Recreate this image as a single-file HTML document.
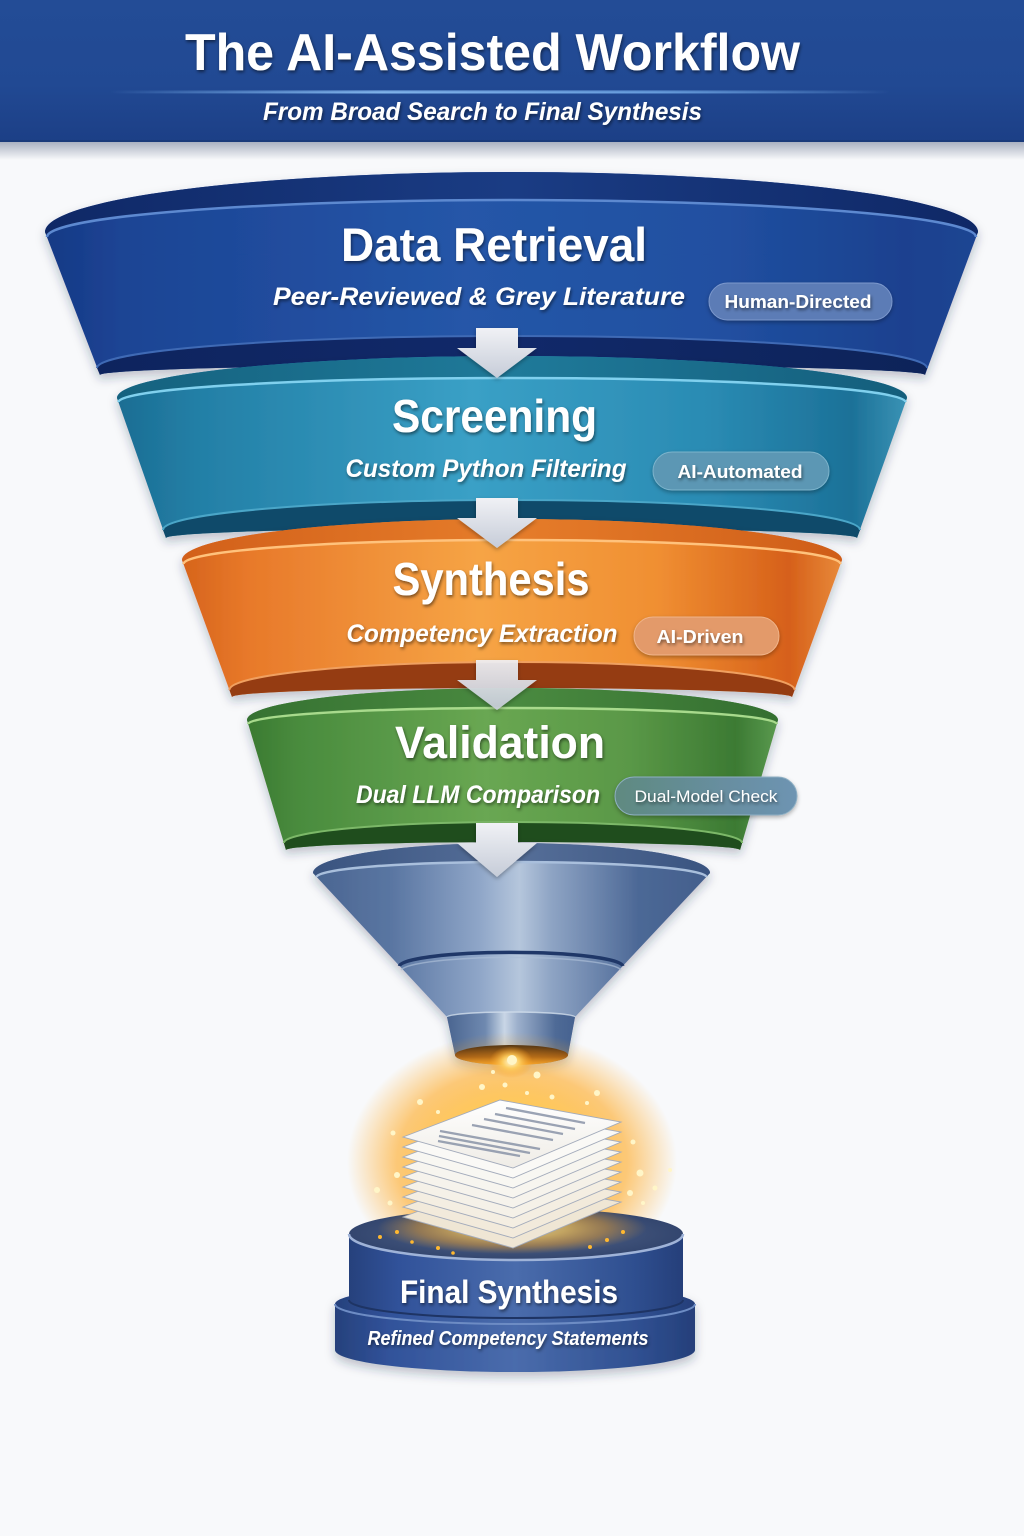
<!DOCTYPE html>
<html><head><meta charset="utf-8">
<style>
html,body{margin:0;padding:0;background:#f8f9fb;}
svg{display:block;}
text{font-family:"Liberation Sans",Arial,sans-serif;}
</style></head><body>
<svg width="1024" height="1536" viewBox="0 0 1024 1536" xmlns="http://www.w3.org/2000/svg">
<defs>
  <linearGradient id="hdr" x1="0" y1="0" x2="0" y2="1">
    <stop offset="0" stop-color="#234c96"/><stop offset="0.6" stop-color="#214993"/><stop offset="1" stop-color="#1c3f86"/>
  </linearGradient>
  <linearGradient id="hdrSh" x1="0" y1="0" x2="0" y2="1">
    <stop offset="0" stop-color="#1a2c55" stop-opacity="0.35"/><stop offset="1" stop-color="#1a2c55" stop-opacity="0"/>
  </linearGradient>
  <linearGradient id="sep" x1="0" y1="0" x2="1" y2="0">
    <stop offset="0" stop-color="#7ab3f0" stop-opacity="0"/><stop offset="0.35" stop-color="#8cc0f5" stop-opacity="1"/><stop offset="0.7" stop-color="#7ab3f0" stop-opacity="0.8"/><stop offset="1" stop-color="#7ab3f0" stop-opacity="0"/>
  </linearGradient>

  <linearGradient id="bB" x1="0" y1="0" x2="1" y2="0">
    <stop offset="0" stop-color="#163985"/><stop offset="0.08" stop-color="#1c4494"/><stop offset="0.45" stop-color="#2556a8"/><stop offset="0.72" stop-color="#2150a1"/><stop offset="0.92" stop-color="#1a418f"/><stop offset="1" stop-color="#1d4592"/>
  </linearGradient>
  <linearGradient id="bL" x1="0" y1="0" x2="1" y2="0">
    <stop offset="0" stop-color="#0f2866"/><stop offset="0.5" stop-color="#1a3c84"/><stop offset="1" stop-color="#0f2866"/>
  </linearGradient>
  <linearGradient id="bR" x1="0" y1="0" x2="1" y2="0">
    <stop offset="0" stop-color="#0e245e"/><stop offset="0.5" stop-color="#11296a"/><stop offset="1" stop-color="#0d2359"/>
  </linearGradient>
  <linearGradient id="tB" x1="0" y1="0" x2="1" y2="0">
    <stop offset="0" stop-color="#1b6d93"/><stop offset="0.1" stop-color="#237fa6"/><stop offset="0.45" stop-color="#3aa0c6"/><stop offset="0.75" stop-color="#2a8bb3"/><stop offset="0.93" stop-color="#1c7198"/><stop offset="1" stop-color="#3a93b5"/>
  </linearGradient>
  <linearGradient id="tL" x1="0" y1="0" x2="1" y2="0">
    <stop offset="0" stop-color="#15627f"/><stop offset="0.5" stop-color="#1f7a9a"/><stop offset="1" stop-color="#145e7c"/>
  </linearGradient>
  <linearGradient id="oB" x1="0" y1="0" x2="1" y2="0">
    <stop offset="0" stop-color="#d6641c"/><stop offset="0.1" stop-color="#e8792a"/><stop offset="0.45" stop-color="#f6a445"/><stop offset="0.72" stop-color="#f08f32"/><stop offset="0.92" stop-color="#d6601a"/><stop offset="1" stop-color="#e88a3a"/>
  </linearGradient>
  <linearGradient id="oL" x1="0" y1="0" x2="1" y2="0">
    <stop offset="0" stop-color="#d2601a"/><stop offset="0.5" stop-color="#e67d2a"/><stop offset="1" stop-color="#cf5d18"/>
  </linearGradient>
  <linearGradient id="gB" x1="0" y1="0" x2="1" y2="0">
    <stop offset="0" stop-color="#3a7a31"/><stop offset="0.1" stop-color="#4a8c3e"/><stop offset="0.45" stop-color="#69a752"/><stop offset="0.72" stop-color="#5a9847"/><stop offset="0.92" stop-color="#3c7a33"/><stop offset="1" stop-color="#5a9a4f"/>
  </linearGradient>
  <linearGradient id="gL" x1="0" y1="0" x2="1" y2="0">
    <stop offset="0" stop-color="#367232"/><stop offset="0.5" stop-color="#4a8a40"/><stop offset="1" stop-color="#346f30"/>
  </linearGradient>
  <linearGradient id="cB" x1="0" y1="0" x2="1" y2="0">
    <stop offset="0" stop-color="#4a6591"/><stop offset="0.2" stop-color="#5a76a2"/><stop offset="0.42" stop-color="#8fa6c8"/><stop offset="0.52" stop-color="#b5c6dc"/><stop offset="0.6" stop-color="#8ea4c4"/><stop offset="0.82" stop-color="#4c6896"/><stop offset="1" stop-color="#435f8c"/>
  </linearGradient>
  <linearGradient id="cS" x1="0" y1="0" x2="1" y2="0">
    <stop offset="0" stop-color="#4a6590"/><stop offset="0.3" stop-color="#6f89b0"/><stop offset="0.45" stop-color="#c9d6e6"/><stop offset="0.55" stop-color="#9db0cc"/><stop offset="0.85" stop-color="#4e6a96"/><stop offset="1" stop-color="#466290"/>
  </linearGradient>
  <linearGradient id="cL" x1="0" y1="0" x2="1" y2="0">
    <stop offset="0" stop-color="#3a5480"/><stop offset="0.5" stop-color="#566f99"/><stop offset="1" stop-color="#3a5480"/>
  </linearGradient>
  <linearGradient id="hole" x1="0" y1="0" x2="0" y2="1">
    <stop offset="0" stop-color="#2a1a10"/><stop offset="0.6" stop-color="#8a4a14"/><stop offset="1" stop-color="#f0a030"/>
  </linearGradient>
  <linearGradient id="arr" x1="0" y1="0" x2="0" y2="1">
    <stop offset="0" stop-color="#f0f1f5"/><stop offset="1" stop-color="#c6ccd8"/>
  </linearGradient>
  <linearGradient id="pB" x1="0" y1="0" x2="1" y2="0">
    <stop offset="0" stop-color="#26417c"/><stop offset="0.15" stop-color="#31529a"/><stop offset="0.5" stop-color="#4a6cac"/><stop offset="0.85" stop-color="#2f4f90"/><stop offset="1" stop-color="#253f7a"/>
  </linearGradient>
  <radialGradient id="pTop" cx="0.5" cy="0.5" r="0.6">
    <stop offset="0" stop-color="#56688e"/><stop offset="1" stop-color="#2c3f68"/>
  </radialGradient>
  <radialGradient id="glow" cx="0.5" cy="0.5" r="0.5">
    <stop offset="0" stop-color="#fff2b8" stop-opacity="1"/><stop offset="0.4" stop-color="#ffc850" stop-opacity="0.95"/><stop offset="0.7" stop-color="#ffa820" stop-opacity="0.6"/><stop offset="1" stop-color="#ffa820" stop-opacity="0"/>
  </radialGradient>
  <radialGradient id="spot" cx="0.5" cy="0.5" r="0.5">
    <stop offset="0" stop-color="#fffbe0"/><stop offset="0.4" stop-color="#ffd060" stop-opacity="0.9"/><stop offset="1" stop-color="#ffa020" stop-opacity="0"/>
  </radialGradient>
  <linearGradient id="paper" x1="0" y1="0" x2="0" y2="1">
    <stop offset="0" stop-color="#ffffff"/><stop offset="1" stop-color="#efece6"/>
  </linearGradient>
  <linearGradient id="dmc" x1="0" y1="0" x2="1" y2="0">
    <stop offset="0" stop-color="#5f8a80"/><stop offset="0.6" stop-color="#678ea0"/><stop offset="1" stop-color="#6e94b2"/>
  </linearGradient>

  <filter id="ts" x="-10%" y="-40%" width="120%" height="180%"><feDropShadow dx="1" dy="2" stdDeviation="1.6" flood-color="#000" flood-opacity="0.5"/></filter>
  <filter id="ds" x="-10%" y="-10%" width="120%" height="140%"><feDropShadow dx="0" dy="5" stdDeviation="5" flood-color="#1a2a4a" flood-opacity="0.28"/></filter>
  <filter id="ps" x="-10%" y="-30%" width="120%" height="180%"><feDropShadow dx="0" dy="2" stdDeviation="2" flood-color="#000" flood-opacity="0.3"/></filter>
  <filter id="bl3"><feGaussianBlur stdDeviation="1.5"/></filter>
</defs>

<rect x="0" y="0" width="1024" height="1536" fill="#f8f9fb"/>

<!-- HEADER -->
<rect x="0" y="142" width="1024" height="18" fill="url(#hdrSh)"/>
<rect x="0" y="0" width="1024" height="142" fill="url(#hdr)"/>
<rect x="0" y="140" width="1024" height="2" fill="#1a3a7a"/>
<rect x="110" y="90.5" width="780" height="3" fill="url(#sep)" filter="url(#bl3)"/>
<rect x="110" y="91.5" width="780" height="1.2" fill="url(#sep)"/>
<text x="492.5" y="70" font-size="52" font-weight="bold" fill="#ffffff" text-anchor="middle" textLength="615" lengthAdjust="spacingAndGlyphs" filter="url(#ts)">The AI-Assisted Workflow</text>
<text x="482.5" y="120" font-size="25" font-weight="bold" font-style="italic" fill="#ffffff" text-anchor="middle" textLength="439" lengthAdjust="spacingAndGlyphs" filter="url(#ts)">From Broad Search to Final Synthesis</text>

<!-- LAYER 1 BLUE -->
<g filter="url(#ds)">
<path d="M45 232 A466.5 60 0 0 1 978 232 L925 375 A412.5 10 0 0 0 100 375 Z" fill="url(#bB)"/>
</g>
<path d="M45 232 A466.5 60 0 0 1 978 232 L976 237 A464.5 37 0 0 0 47 237 Z" fill="url(#bL)"/>
<path d="M47 237 A464.5 37 0 0 1 976 237" fill="none" stroke="#5d89d0" stroke-width="2.5"/>
<path d="M97 368 A415 32 0 0 1 927 368 L925 375 A412.5 10 0 0 0 100 375 Z" fill="url(#bR)"/>
<path d="M97 368 A415 32 0 0 1 927 368" fill="none" stroke="#3f6ab5" stroke-width="2"/>
<text x="494" y="261" font-size="47" font-weight="bold" fill="#ffffff" text-anchor="middle" textLength="306" lengthAdjust="spacingAndGlyphs" filter="url(#ts)">Data Retrieval</text>
<text x="479" y="305" font-size="25" font-weight="bold" font-style="italic" fill="#ffffff" text-anchor="middle" textLength="412" lengthAdjust="spacingAndGlyphs" filter="url(#ts)">Peer-Reviewed &amp; Grey Literature</text>
<g filter="url(#ps)"><rect x="709" y="283" width="183" height="37" rx="18.5" fill="#5b7bb6" stroke="#7c98cc" stroke-width="1"/></g>
<text x="798" y="308" font-size="18" font-weight="bold" fill="#ffffff" text-anchor="middle" textLength="147" lengthAdjust="spacingAndGlyphs" filter="url(#ts)">Human-Directed</text>

<!-- LAYER 2 TEAL -->
<g filter="url(#ds)">
<path d="M117 398 A395 42 0 0 1 907 398 L857 538 A345.5 10 0 0 0 166 538 Z" fill="url(#tB)"/>
</g>
<path d="M117 398 A395 42 0 0 1 907 398 L905.5 402 A393.5 24 0 0 0 118.5 402 Z" fill="url(#tL)"/>
<path d="M118.5 402 A393.5 24 0 0 1 905.5 402" fill="none" stroke="#80d0ee" stroke-width="2.5"/>
<path d="M163 530 A348.5 30 0 0 1 860 530 L857 538 A345.5 10 0 0 0 166 538 Z" fill="#0f4a6a"/>
<path d="M163 530 A348.5 30 0 0 1 860 530" fill="none" stroke="#4aa6c8" stroke-width="2"/>
<text x="494.5" y="432" font-size="46" font-weight="bold" fill="#ffffff" text-anchor="middle" textLength="205" lengthAdjust="spacingAndGlyphs" filter="url(#ts)">Screening</text>
<text x="486" y="477" font-size="25" font-weight="bold" font-style="italic" fill="#ffffff" text-anchor="middle" textLength="281" lengthAdjust="spacingAndGlyphs" filter="url(#ts)">Custom Python Filtering</text>
<g filter="url(#ps)"><rect x="653" y="452" width="176" height="38" rx="19" fill="#5c97b4" stroke="#7db4cc" stroke-width="1"/></g>
<text x="740" y="478" font-size="18" font-weight="bold" fill="#ffffff" text-anchor="middle" textLength="125" lengthAdjust="spacingAndGlyphs" filter="url(#ts)">AI-Automated</text>

<!-- LAYER 3 ORANGE -->
<g filter="url(#ds)">
<path d="M182 560 A330 41 0 0 1 842 560 L792 697 A280 9 0 0 0 232 697 Z" fill="url(#oB)"/>
</g>
<path d="M182 560 A330 41 0 0 1 842 560 L840.5 564 A328.5 24 0 0 0 183.5 564 Z" fill="url(#oL)"/>
<path d="M183.5 564 A328.5 24 0 0 1 840.5 564" fill="none" stroke="#ffc27c" stroke-width="2.5"/>
<path d="M229.4 690 A282.6 28 0 0 1 794.6 690 L792 697 A280 9 0 0 0 232 697 Z" fill="#953c12"/>
<path d="M229.4 690 A282.6 28 0 0 1 794.6 690" fill="none" stroke="#f0a060" stroke-width="2"/>
<text x="491" y="595" font-size="46" font-weight="bold" fill="#ffffff" text-anchor="middle" textLength="197" lengthAdjust="spacingAndGlyphs" filter="url(#ts)">Synthesis</text>
<text x="482" y="642" font-size="25" font-weight="bold" font-style="italic" fill="#ffffff" text-anchor="middle" textLength="271" lengthAdjust="spacingAndGlyphs" filter="url(#ts)">Competency Extraction</text>
<g filter="url(#ps)"><rect x="634" y="617" width="145" height="38" rx="19" fill="#e39a6a" stroke="#f0b48a" stroke-width="1"/></g>
<text x="700" y="643" font-size="18" font-weight="bold" fill="#ffffff" text-anchor="middle" textLength="87" lengthAdjust="spacingAndGlyphs" filter="url(#ts)">AI-Driven</text>

<!-- LAYER 4 GREEN -->
<g filter="url(#ds)">
<path d="M247 720 A265.5 32 0 0 1 778 720 L740 850 A227 8 0 0 0 286 850 Z" fill="url(#gB)"/>
</g>
<path d="M247 720 A265.5 32 0 0 1 778 720 L776.8 724 A264.3 16 0 0 0 248.2 724 Z" fill="url(#gL)"/>
<path d="M248.2 724 A264.3 16 0 0 1 776.8 724" fill="none" stroke="#a8da8c" stroke-width="2.5"/>
<path d="M283.9 843 A229.1 21 0 0 1 742.1 843 L740 850 A227 8 0 0 0 286 850 Z" fill="#1f4d1d"/>
<path d="M283.9 843 A229.1 21 0 0 1 742.1 843" fill="none" stroke="#7cb868" stroke-width="2"/>
<text x="500" y="758" font-size="45" font-weight="bold" fill="#ffffff" text-anchor="middle" textLength="210" lengthAdjust="spacingAndGlyphs" filter="url(#ts)">Validation</text>
<text x="478" y="803" font-size="25" font-weight="bold" font-style="italic" fill="#ffffff" text-anchor="middle" textLength="244" lengthAdjust="spacingAndGlyphs" filter="url(#ts)">Dual LLM Comparison</text>
<g filter="url(#ps)"><rect x="615" y="777" width="182" height="38" rx="19" fill="url(#dmc)" stroke="#8fb0c4" stroke-width="1"/></g>
<text x="706" y="802" font-size="17" fill="#ffffff" text-anchor="middle" textLength="143" lengthAdjust="spacingAndGlyphs" filter="url(#ts)">Dual-Model Check</text>

<!-- CONE -->
<g filter="url(#ds)">
<path d="M313 873 A198.5 30 0 0 1 710 873 L575 1017 L568 1055 A56.5 10 0 0 1 455 1055 L447 1017 Z" fill="url(#cB)"/>
</g>
<path d="M447 1017 A64 5 0 0 1 575 1017 L568 1055 A56.5 10 0 0 1 455 1055 Z" fill="url(#cS)"/>
<path d="M447 1017 A64 5 0 0 1 575 1017" fill="none" stroke="#d2deec" stroke-width="1.5" opacity="0.8"/>
<path d="M313 873 A198.5 30 0 0 1 710 873 L706.3 877 A194.8 15 0 0 0 316.7 877 Z" fill="url(#cL)"/>
<path d="M316.7 877 A194.8 15 0 0 1 706.3 877" fill="none" stroke="#a9bfdc" stroke-width="2.5"/>
<path d="M399.5 966 A111.7 14 0 0 1 622.8 966" fill="none" stroke="#1f3768" stroke-width="3.5"/>
<path d="M401 970 A110.5 14 0 0 1 621 970" fill="none" stroke="#a9bcd6" stroke-width="1.5" opacity="0.7"/>
<ellipse cx="511.5" cy="1055" rx="56.5" ry="10" fill="url(#hole)"/>

<!-- GLOW -->
<ellipse cx="512" cy="1162" rx="165" ry="130" fill="url(#glow)"/>
<ellipse cx="511" cy="1062" rx="22" ry="16" fill="url(#spot)"/>

<!-- PEDESTAL -->
<g filter="url(#ds)">
<path d="M335 1304 L335 1350 A180 22 0 0 0 695 1350 L695 1304 A180 20 0 0 0 335 1304 Z" fill="url(#pB)"/>
</g>
<path d="M335 1304 A180 20 0 0 0 695 1304" fill="none" stroke="#6d8cc4" stroke-width="2"/>
<path d="M349 1234 L349 1300 A167 18 0 0 0 683 1300 L683 1234 Z" fill="url(#pB)"/>
<path d="M349 1300 A167 18 0 0 0 683 1300" fill="none" stroke="#1e3464" stroke-width="2"/>
<ellipse cx="516" cy="1234" rx="167" ry="26" fill="url(#pTop)"/>
<path d="M349 1234 A167 26 0 0 0 683 1234" fill="none" stroke="#9fb3d8" stroke-width="2.5"/>
<ellipse cx="512" cy="1228" rx="135" ry="26" fill="url(#glow)" opacity="0.7"/>

<!-- PAPERS -->
<g stroke="#a3abbb" stroke-width="0.9">
  <polygon points="403,1217 500,1180 621,1202 513,1248" fill="#efe6d4"/>
  <polygon points="403,1207 500,1170 621,1192 513,1238" fill="#f2eadb"/>
  <polygon points="403,1197 500,1160 621,1182 513,1228" fill="#f4eee2"/>
  <polygon points="403,1187 500,1150 621,1172 513,1218" fill="#f5f1e8"/>
  <polygon points="403,1177 500,1140 621,1162 513,1208" fill="#f6f3ec"/>
  <polygon points="403,1167 500,1130 621,1152 513,1198" fill="#f7f5ef"/>
  <polygon points="403,1157 500,1120 621,1142 513,1188" fill="#f8f7f2"/>
  <polygon points="403,1147 500,1110 621,1132 513,1178" fill="#faf9f6"/>
  <polygon points="403,1137 500,1100 621,1122 513,1168" fill="url(#paper)"/>
</g>
<g stroke="#8a94a8" stroke-width="2.4" stroke-linecap="butt" opacity="0.85">
  <line x1="506" y1="1108" x2="585" y2="1123"/>
  <line x1="495" y1="1114" x2="575" y2="1129"/>
  <line x1="484" y1="1119" x2="563" y2="1134"/>
  <line x1="472" y1="1125" x2="553" y2="1140"/>
  <line x1="440" y1="1131" x2="540" y2="1149"/>
  <line x1="439" y1="1136" x2="530" y2="1153"/>
  <line x1="438" y1="1141" x2="520" y2="1156"/>
</g>

<!-- SPARKLES -->
<g fill="#fff6c8">
  <circle cx="512" cy="1060" r="5"/>
  <circle cx="537" cy="1075" r="3.5"/><circle cx="505" cy="1085" r="2.5"/><circle cx="482" cy="1087" r="3"/>
  <circle cx="493" cy="1072" r="2"/><circle cx="527" cy="1093" r="2"/><circle cx="552" cy="1097" r="2.5"/>
  <circle cx="597" cy="1093" r="3"/><circle cx="438" cy="1112" r="2"/><circle cx="420" cy="1102" r="3"/>
  <circle cx="587" cy="1103" r="2"/><circle cx="393" cy="1133" r="2.5"/><circle cx="633" cy="1142" r="2.5"/>
  <circle cx="397" cy="1175" r="3"/><circle cx="640" cy="1173" r="3.5"/><circle cx="377" cy="1190" r="3"/>
  <circle cx="630" cy="1193" r="3"/><circle cx="390" cy="1203" r="2.5"/><circle cx="655" cy="1188" r="2.5"/>
  <circle cx="643" cy="1203" r="2"/><circle cx="670" cy="1170" r="2"/>
</g>
<g fill="#ffb830">
  <circle cx="397" cy="1232" r="2"/><circle cx="380" cy="1237" r="2"/><circle cx="623" cy="1232" r="2"/>
  <circle cx="607" cy="1240" r="2"/><circle cx="590" cy="1247" r="2"/><circle cx="438" cy="1248" r="2"/>
  <circle cx="453" cy="1253" r="1.8"/><circle cx="412" cy="1242" r="1.8"/>
</g>

<!-- PEDESTAL TEXT -->
<text x="509" y="1303" font-size="32" font-weight="bold" fill="#ffffff" text-anchor="middle" textLength="218" lengthAdjust="spacingAndGlyphs" filter="url(#ts)">Final Synthesis</text>
<text x="508" y="1345" font-size="20" font-weight="bold" font-style="italic" fill="#ffffff" text-anchor="middle" textLength="281" lengthAdjust="spacingAndGlyphs" filter="url(#ts)">Refined Competency Statements</text>

<!-- ARROWS -->
<g fill="url(#arr)" filter="url(#ps)">
  <path d="M476 328 H518 V348 H537 L497 378 L457 348 H476 Z"/>
  <path d="M476 498 H518 V518 H537 L497 548 L457 518 H476 Z"/>
  <path d="M476 660 H518 V680 H537 L497 710 L457 680 H476 Z" fill-opacity="0.92"/>
  <path d="M476 823 H518 V843 H537 L497 877 L457 843 H476 Z"/>
</g>
</svg>
</body></html>
